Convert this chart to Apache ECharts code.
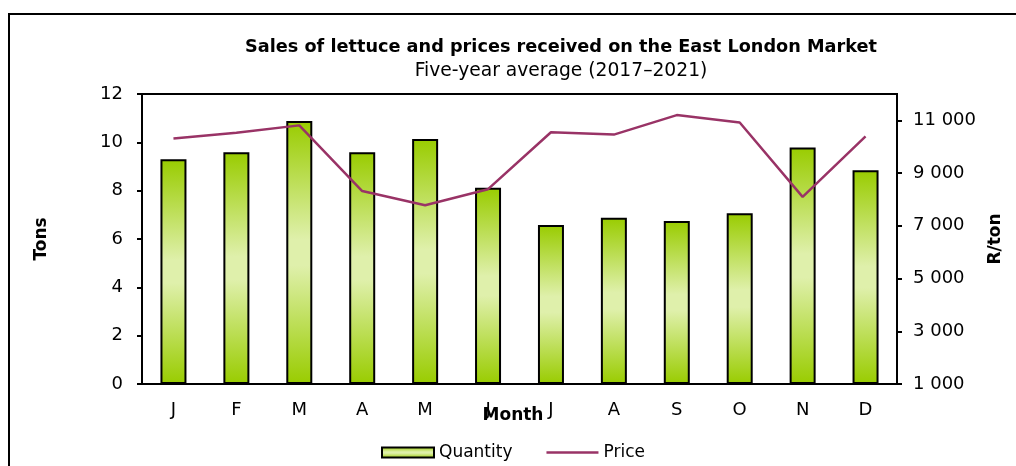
<!DOCTYPE html>
<html>
<head>
<meta charset="utf-8">
<script src="https://cdn.jsdelivr.net/npm/echarts@6/dist/echarts.min.js"></script>
<style>
  html, body { margin: 0; padding: 0; background: #fff; }
  #chart { width: 1016px; height: 466px; }
</style>
</head>
<body>
<div id="chart"></div>
<script>
// 月份和数据
const months = ['J', 'F', 'M', 'A', 'M', 'J', 'J', 'A', 'S', 'O', 'N', 'D'];
const quantity = [9.3, 9.59, 10.88, 9.59, 10.14, 8.12, 6.58, 6.88, 6.74, 7.07, 9.79, 8.85];
const price = [10310, 10530, 10810, 8320, 7780, 8390, 10550, 10460, 11200, 10920, 8100, 10390];
const tonTicks = [0, 2, 4, 6, 8, 10, 12];
const priceTicks = [1000, 3000, 5000, 7000, 9000, 11000];

const font = 'DejaVu Sans';
const chart = echarts.init(document.getElementById('chart'));

// 柱子的渐变色：上下深、中间浅
const barFill = new echarts.graphic.LinearGradient(0, 0, 0, 1, [
  { offset: 0, color: '#99cc00' },
  { offset: 0.45, color: '#dff0ab' },
  { offset: 0.55, color: '#dff0ab' },
  { offset: 1, color: '#99cc00' }
]);

const option = {
  animation: false,
  backgroundColor: '#fff',
  textStyle: { fontFamily: font, color: '#000' },
  title: [
    {
      text: 'Sales of lettuce and prices received on the East London Market',
      left: 556, top: 33, textAlign: 'center',
      textStyle: { fontFamily: font, fontSize: 17.7, fontWeight: 'bold', color: '#000' }
    },
    {
      text: 'Five-year average (2017–2021)',
      left: 556, top: 57, textAlign: 'center',
      textStyle: { fontFamily: font, fontSize: 18.7, fontWeight: 'normal', color: '#000' }
    }
  ],
  graphic: [
    {
      type: 'polyline',
      shape: { points: [[9, 466], [9, 14], [1016, 14]] },
      style: { stroke: '#000', lineWidth: 2, fill: null }
    }
  ],
  legend: {
    left: 376, top: 439,
    itemWidth: 52, itemHeight: 10, itemGap: 34,
    textStyle: { fontFamily: font, fontSize: 17, color: '#000' },
    data: [
      { name: 'Quantity', icon: 'rect' },
      { name: 'Price', icon: 'path://M0,0 L52,0 L52,2.5 L0,2.5 Z' }
    ]
  },
  grid: {
    left: 142, right: 119, top: 94, bottom: 82,
    show: true, borderColor: '#000', borderWidth: 2
  },
  xAxis: {
    type: 'category',
    data: months,
    name: 'Month',
    nameLocation: 'middle',
    nameGap: 23,
    nameMoveOverlap: false,
    nameTextStyle: { fontFamily: font, fontSize: 17, fontWeight: 'bold', color: '#000', padding: [0, 13, 0, 0] },
    axisLine: { lineStyle: { color: '#000', width: 2 } },
    axisTick: { alignWithLabel: false, length: 5, lineStyle: { color: '#000', width: 2 } },
    axisLabel: { margin: 17, fontSize: 18, color: '#000' },
    splitLine: { show: false }
  },
  yAxis: [
    {
      type: 'value',
      min: 0, max: 12, interval: 2,
      name: 'Tons',
      nameLocation: 'middle',
      nameGap: 92,
      nameRotate: 90,
      nameTextStyle: { fontFamily: font, fontSize: 17, fontWeight: 'bold', color: '#000' },
      axisLine: { show: true, lineStyle: { color: '#000', width: 2 } },
      axisTick: { show: true, length: 5, lineStyle: { color: '#000', width: 2 }, customValues: tonTicks },
      axisLabel: { margin: 19, fontSize: 18, color: '#000', customValues: tonTicks },
      splitLine: { show: false }
    },
    {
      type: 'value',
      min: 1000, max: 12000, interval: 2000,
      name: 'R/ton',
      nameLocation: 'middle',
      nameGap: 90,
      nameRotate: 90,
      nameTextStyle: { fontFamily: font, fontSize: 17, fontWeight: 'bold', color: '#000' },
      axisLine: { show: true, lineStyle: { color: '#000', width: 2 } },
      axisTick: { show: true, length: 5, lineStyle: { color: '#000', width: 2 }, customValues: priceTicks },
      axisLabel: {
        margin: 16, fontSize: 18, color: '#000', customValues: priceTicks,
        formatter: v => String(v).replace(/\B(?=(\d{3})+(?!\d))/g, ' ')
      },
      splitLine: { show: false }
    }
  ],
  series: [
    {
      name: 'Quantity',
      type: 'bar',
      data: quantity,
      barWidth: 26,
      itemStyle: { color: barFill, borderColor: '#000', borderWidth: 2 }
    },
    {
      name: 'Price',
      type: 'line',
      yAxisIndex: 1,
      data: price,
      symbol: 'none',
      lineStyle: { color: '#993366', width: 2.5 },
      itemStyle: { color: '#993366' }
    }
  ]
};

chart.setOption(option);
</script>
</body>
</html>
